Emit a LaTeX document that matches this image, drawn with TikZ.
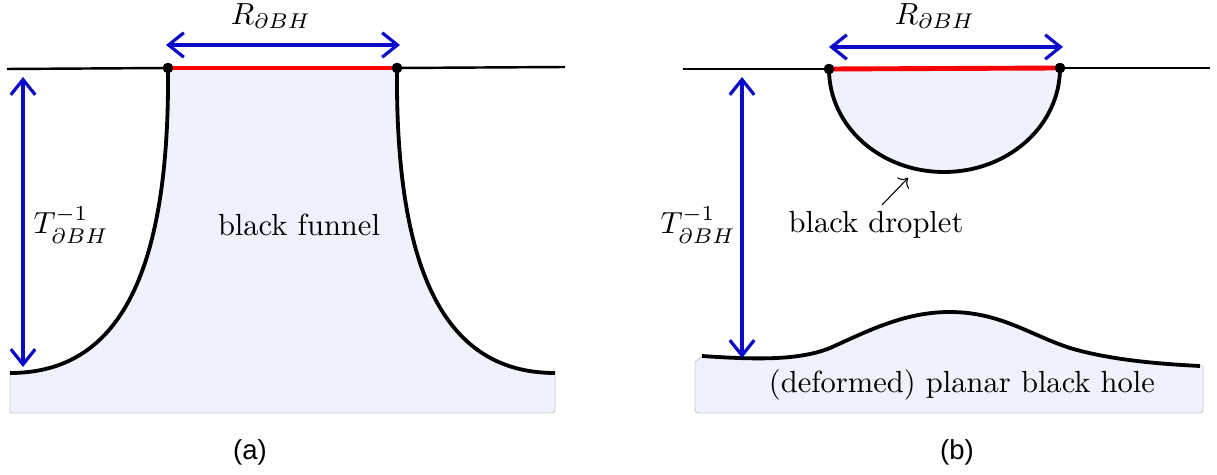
\documentclass[tikz,border=0pt]{standalone}
\usepackage{fontspec}
\newfontfamily\capfont{Liberation Sans}
\usetikzlibrary{arrows.meta}
\definecolor{bhfill}{RGB}{239,242,253}
\definecolor{dimblue}{RGB}{10,10,200}
\begin{document}
\begin{tikzpicture}[x=0.3276pt,y=-0.3276pt,vtx/.style={circle,fill,inner sep=0pt,minimum size=3.4pt},horizon/.style={line width=1.25pt},bdry/.style={line width=0.8pt},dim/.style={dimblue,line width=1.05pt,{Straight Barb[length=5pt,width=8pt]}-{Straight Barb[length=5pt,width=8pt]}},panelcap/.style={font=\capfont\fontsize{9}{11}\selectfont}]
\useasboundingbox (0,0) rectangle (1217,475);
% (a) funnel
\filldraw[fill=bhfill,draw=black!20,line width=0.3pt] (168,68) -- (397,68) .. controls (395,290) and (455,373) .. (555,373) -- (555,406) .. controls (555,413) .. (548,413) -- (10,413) -- (10,373) .. controls (110,373) and (170,290) .. (168,68) -- cycle;
\node[vtx] (a1) at (168,68) {}; \node[vtx] (a2) at (397,68) {};
\coordinate (a0) at (7,69); \coordinate (a3) at (565,67); \coordinate (a4) at (10,373); \coordinate (a5) at (555,373);
\draw[horizon] (a1.center) .. controls (170,290) and (110,373) .. (a4);
\draw[horizon] (a2.center) .. controls (395,290) and (455,373) .. (a5);
\draw[bdry] (a0) -- (a1.center); \draw[bdry] (a2.center) -- (a3);
\draw[red,line width=1.6pt] (a1.center) -- (a2.center);
\node[vtx] at (a1) {}; \node[vtx] at (a2) {};
\coordinate (aRl) at (166,45); \coordinate (aRr) at (400,45); \draw[dim] (aRl) -- (aRr);
\coordinate (aTt) at (23,77); \coordinate (aTb) at (23,367); \draw[dim] (aTt) -- (aTb);
\node (aR) at (271,16) {$R_{\partial BH}$};
\node (aT) at (71,225) {$T^{-1}_{\partial BH}$};
\node (aN) at (299,225) {black funnel};
\node[panelcap] (aC) at (250,452) {(a)};
% (b) droplet + planar black hole
\filldraw[fill=bhfill,draw=black!20,line width=0.3pt] (702,356) .. controls (760,360) and (800,360) .. (830,348) .. controls (870,330) and (905,312) .. (950,312) .. controls (1000,312) and (1030,335) .. (1070,348) .. controls (1110,360) and (1160,364) .. (1200,366) -- (1203,366) -- (1203,406) .. controls (1203,413) .. (1196,413) -- (702,413) .. controls (695,413) .. (695,406) -- (695,362) -- cycle;
\fill[bhfill] (829,69) .. controls (829,126) and (880,172) .. (944,172) .. controls (1008,172) and (1060,126) .. (1060,68) -- cycle;
\node[vtx] (b1) at (829,69) {}; \node[vtx] (b2) at (1060,68) {};
\coordinate (b0) at (683,69); \coordinate (b3) at (1210,68); \coordinate (b4) at (944,172); \coordinate (b5) at (702,356); \coordinate (b6) at (1200,366);
\draw[horizon] (b1.center) .. controls (829,126) and (880,172) .. (b4) .. controls (1008,172) and (1060,126) .. (b2.center);
\draw[horizon] (b5) .. controls (760,360) and (800,360) .. (830,348) .. controls (870,330) and (905,312) .. (950,312) .. controls (1000,312) and (1030,335) .. (1070,348) .. controls (1110,360) and (1160,364) .. (b6);
\draw[bdry] (b0) -- (b1.center); \draw[bdry] (b2.center) -- (b3);
\draw[red,line width=1.6pt] (b1.center) -- (b2.center);
\node[vtx] at (b1) {}; \node[vtx] at (b2) {};
\coordinate (bRl) at (829,47); \coordinate (bRr) at (1063,47); \draw[dim] (bRl) -- (bRr);
\coordinate (bTt) at (742,77); \coordinate (bTb) at (742,358); \draw[dim] (bTt) -- (bTb);
\node (bR) at (935,16) {$R_{\partial BH}$};
\node (bT) at (698,225) {$T^{-1}_{\partial BH}$};
\node (bD) at (876,225) {black droplet};
\coordinate (bp) at (908,178); \draw[-{To[length=2.5pt]},line width=0.35pt] (882,205) -- (bp);
\node (bP) at (962,385) {(deformed) planar black hole};
\node[panelcap] (bC) at (957,452) {(b)};
\end{tikzpicture}
\end{document}
